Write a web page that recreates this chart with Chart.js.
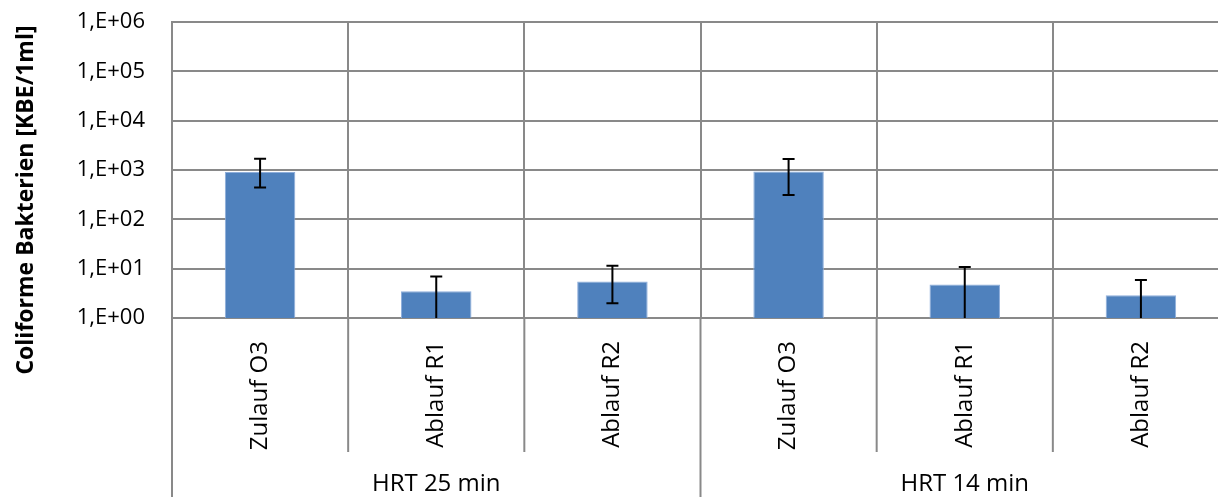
<!DOCTYPE html>
<html>
<head>
<meta charset="utf-8">
<script src="https://cdn.jsdelivr.net/npm/chart.js@4/dist/chart.umd.min.js"></script>
<style>
  html, body { margin: 0; padding: 0; background: #fff; overflow: hidden; }
  #wrap { width: 1240px; height: 497px; }
</style>
</head>
<body>
<div id="wrap"><canvas id="chart" width="1240" height="497"></canvas></div>
<script>
const categories = ["Zulauf O3", "Ablauf R1", "Ablauf R2", "Zulauf O3", "Ablauf R1", "Ablauf R2"];
const groups = ["HRT 25 min", "HRT 14 min"];
const groupSize = 3;

const values = [910, 3.5, 5.5, 930, 4.8, 2.9];
const errPlus = [790, 3.4, 6.0, 740, 6.0, 3.0];
const errMinus = [470, 3.5, 3.5, 620, 5.0, 3.0];

const tickValues = [1, 10, 100, 1000, 10000, 100000, 1000000];
const tickLabels = ["1,E+00", "1,E+01", "1,E+02", "1,E+03", "1,E+04", "1,E+05", "1,E+06"];

const yTitle = "Coliforme Bakterien [KBE/1ml]";

const FONT = "'Open Sans', sans-serif";
const GRID = "#898989";

// error bars, y title, the multi-level category lines and group labels
const extrasPlugin = {
  id: "extras",
  afterDatasetsDraw(chart) {
    const { ctx, chartArea } = chart;
    const x = chart.scales.x;
    const y = chart.scales.y;
    ctx.save();
    ctx.strokeStyle = "#000";
    ctx.lineWidth = 2;
    values.forEach((v, i) => {
      const px = x.getPixelForValue(i);
      const top = y.getPixelForValue(v + errPlus[i]);
      const low = v - errMinus[i];
      const bottom = low > 1 ? y.getPixelForValue(low) : chartArea.bottom;
      ctx.beginPath();
      ctx.moveTo(px, top);
      ctx.lineTo(px, bottom);
      ctx.moveTo(px - 6, top);
      ctx.lineTo(px + 6, top);
      if (low > 1) {
        ctx.moveTo(px - 6, bottom);
        ctx.lineTo(px + 6, bottom);
      }
      ctx.stroke();
    });
    ctx.restore();
  },
  afterDraw(chart) {
    const { ctx, chartArea } = chart;
    const x = chart.scales.x;
    const h = chart.height;
    const step = x.getPixelForValue(1) - x.getPixelForValue(0);
    ctx.save();
    ctx.strokeStyle = GRID;
    ctx.lineWidth = 2;
    for (let i = 0; i <= categories.length; i++) {
      const px = x.getPixelForValue(i) - step / 2;
      const isGroup = i % groupSize === 0;
      ctx.beginPath();
      ctx.moveTo(px, chartArea.bottom);
      ctx.lineTo(px, isGroup ? h : 452);
      ctx.stroke();
    }

    ctx.fillStyle = "#000";
    ctx.font = "24px " + FONT;
    ctx.textAlign = "center";
    ctx.textBaseline = "middle";
    groups.forEach((g, gi) => {
      const a = x.getPixelForValue(gi * groupSize);
      const b = x.getPixelForValue(gi * groupSize + groupSize - 1);
      ctx.fillText(g, (a + b) / 2, 484);
    });

    ctx.translate(26, 200);
    ctx.rotate(-Math.PI / 2);
    ctx.font = "bold 23px " + FONT;
    ctx.fillText(yTitle, 0, 0);
    ctx.restore();
  }
};

new Chart(document.getElementById("chart"), {
  type: "bar",
  data: {
    labels: categories,
    datasets: [{
      data: values,
      backgroundColor: "#4f81bd",
      borderColor: "#8eaedb",
      borderWidth: 1,
      categoryPercentage: 1,
      barPercentage: 0.4
    }]
  },
  options: {
    responsive: false,
    animation: false,
    layout: { padding: { top: 22, right: 11, left: 0, bottom: 0 } },
    plugins: { legend: { display: false }, tooltip: { enabled: false } },
    scales: {
      x: {
        grid: { color: GRID, lineWidth: 2, drawTicks: false, offset: true },
        border: { color: GRID, width: 2 },
        ticks: {
          autoSkip: false,
          minRotation: 90,
          maxRotation: 90,
          padding: 23,
          color: "#000",
          font: { family: FONT, size: 24 }
        },
        afterFit(scale) {
          scale.height = 179;
          scale.paddingLeft = 0;
          scale.paddingRight = 0;
        }
      },
      y: {
        type: "logarithmic",
        min: 1,
        max: 1000000,
        grid: { color: GRID, lineWidth: 2, drawTicks: false },
        border: { color: GRID, width: 2 },
        afterBuildTicks(scale) {
          scale.ticks = tickValues.map(v => ({ value: v, major: true }));
        },
        ticks: {
          padding: 27,
          color: "#000",
          font: { family: FONT, size: 22 },
          callback: (v) => tickLabels[tickValues.indexOf(v)]
        },
        afterFit(scale) {
          scale.width = 172;
          scale.paddingTop = 0;
          scale.paddingBottom = 0;
        }
      }
    }
  },
  plugins: [extrasPlugin]
});
</script>
</body>
</html>
